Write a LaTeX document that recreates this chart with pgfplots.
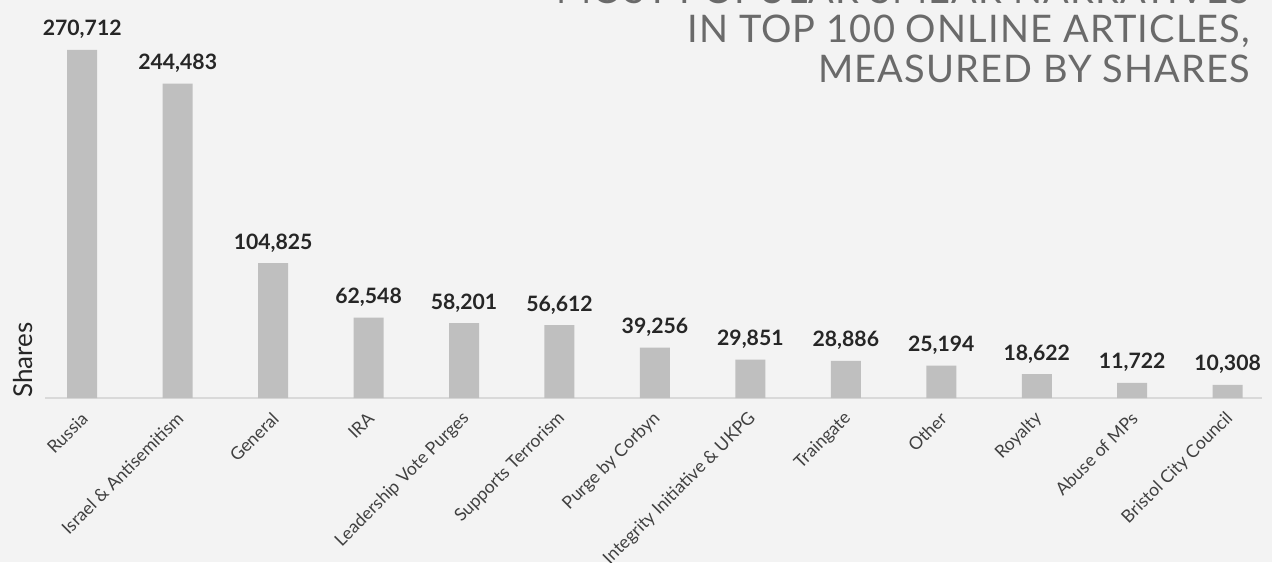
\documentclass[border=0pt]{standalone}
\usepackage{fontspec}
\setmainfont{Lato}
\newfontfamily\titlefont[LetterSpace=3]{Lato}
\usepackage{pgfplots}
\pgfplotsset{compat=1.18}
\definecolor{bg}{HTML}{F3F3F3}
\definecolor{barfill}{HTML}{BFBFBF}
\definecolor{axisgray}{HTML}{D9D9D9}
\definecolor{labgray}{HTML}{404040}
\definecolor{titlegray}{HTML}{6A6A6A}
\begin{document}
\begin{tikzpicture}
\useasboundingbox (-22.5pt,-82pt) rectangle (613.5pt,199pt);
\fill[bg] (-22.5pt,-82pt) rectangle (613.5pt,199pt);
\clip (-22.5pt,-82pt) rectangle (613.5pt,199pt);
\begin{axis}[
  at={(0,0)}, anchor=south west,
  scale only axis, width=608.5pt, height=199pt,
  xmin=-0.39, xmax=12.36, ymin=0, ymax=309600,
  ybar, bar width=15pt,
  axis x line*=bottom, axis y line=none,
  x axis line style={draw=axisgray, line width=1pt, -},
  xtick={0,1,2,3,4,5,6,7,8,9,10,11,12},
  xticklabels={Russia, Israel \& Antisemitism, General, IRA, Leadership Vote Purges, Supports Terrorism, Purge by Corbyn, Integrity Initiative \& UKPG, Traingate, Other, Royalty, Abuse of MPs, Bristol City Council},
  major tick length=0pt,
  x tick label style={yshift=-8pt, xshift=2pt, rotate=45, anchor=east, font=\fontsize{8.8}{10}\selectfont, text=labgray, inner sep=1pt},
  /pgf/number format/assume math mode=true,
  /pgf/number format/.cd, fixed, precision=0, 1000 sep={,}, /pgfplots/.cd,
  nodes near coords,
  every node near coord/.append style={font=\bfseries\fontsize{10.6}{12}\selectfont, text=black!85, anchor=base, yshift=7pt},
]
\addplot[fill=barfill, draw=none] coordinates {
(0,270712) (1,244483) (2,104825) (3,62548) (4,58201) (5,56612) (6,39256)
(7,29851) (8,28886) (9,25194) (10,18622) (11,11722) (12,10308)};
\end{axis}
\node[rotate=90, anchor=south, font=\fontsize{13}{15}\selectfont, text=black!85] at (-2.7pt,19pt) {Shares};
\node[anchor=base east, font=\titlefont\fontsize{19}{20}\selectfont, text=titlegray] at (606pt,197pt) {MOST POPULAR SMEAR NARRATIVES};
\node[anchor=base east, font=\titlefont\fontsize{19}{20}\selectfont, text=titlegray] at (606pt,177.5pt) {IN TOP 100 ONLINE ARTICLES,};
\node[anchor=base east, font=\titlefont\fontsize{19}{20}\selectfont, text=titlegray] at (606pt,157.5pt) {MEASURED BY SHARES};
\end{tikzpicture}
\end{document}
